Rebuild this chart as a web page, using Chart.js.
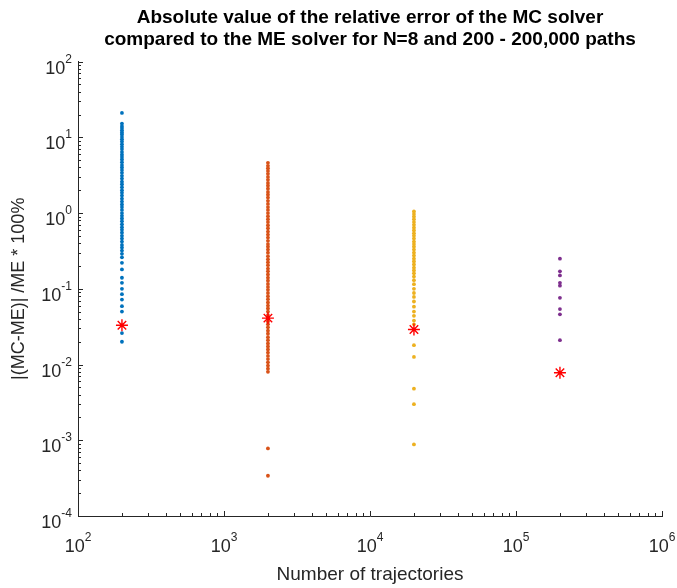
<!DOCTYPE html>
<html lang="en">
  <head>
    <meta charset="UTF-8">
    <script src="https://cdn.jsdelivr.net/npm/chart.js"></script>
    <style>
      body { margin: 0; background: #fff; }
      .chart-container { width: 677px; height: 588px; }
    </style>
  </head>
  <body>
<div class="chart-container">
    <canvas id="errChart"></canvas>
</div>

<script>
  // number of trajectories for each run
  const trajectories = [200, 2000, 20000, 200000];

  // |(MC-ME)|/ME * 100% for each path count
  const err200 = [21, 15.2, 14.1, 13.3, 12.4, 11.6, 10.9, 10.1, 9.4, 8.8, 8.1, 7.5, 7.0, 6.4, 5.9, 5.5, 5.1, 4.7,
    4.3, 4.0, 3.7, 3.4, 3.1, 2.85, 2.6, 2.4, 2.2, 2.0, 1.85, 1.7, 1.55, 1.42, 1.3, 1.2, 1.1, 1.0, 0.92, 0.85,
    0.78, 0.71, 0.65, 0.6, 0.55, 0.5, 0.46, 0.42, 0.38, 0.35, 0.32, 0.29, 0.26, 0.22, 0.18, 0.14, 0.12, 0.1,
    0.085, 0.072, 0.059, 0.05, 0.026, 0.02];
  const err2000 = [4.6, 4.2, 3.9, 3.6, 3.3, 3.0, 2.75, 2.5, 2.3, 2.1, 1.9, 1.75, 1.6, 1.45, 1.32, 1.2, 1.1, 1.0,
    0.91, 0.83, 0.76, 0.69, 0.63, 0.57, 0.52, 0.475, 0.43, 0.39, 0.36, 0.33, 0.3, 0.27, 0.245, 0.225, 0.205,
    0.185, 0.17, 0.155, 0.14, 0.128, 0.116, 0.106, 0.097, 0.088, 0.08, 0.073, 0.066, 0.06, 0.055, 0.05, 0.045,
    0.041, 0.037, 0.034, 0.031, 0.028, 0.0255, 0.023, 0.021, 0.019, 0.0173, 0.0158, 0.0144, 0.013, 0.0118,
    0.0107, 0.0097, 0.0088, 0.008, 0.00078, 0.00034];
  const err20000 = [1.05, 0.97, 0.9, 0.83, 0.76, 0.7, 0.64, 0.59, 0.54, 0.5, 0.46, 0.42, 0.39, 0.36, 0.33, 0.3,
    0.275, 0.25, 0.23, 0.21, 0.19, 0.175, 0.16, 0.145, 0.13, 0.115, 0.1, 0.088, 0.078, 0.068, 0.058, 0.05,
    0.044, 0.038, 0.034, 0.018, 0.0126, 0.0048, 0.003, 0.00088];
  const err200000 = [0.25, 0.17, 0.15, 0.12, 0.11, 0.076, 0.054, 0.046, 0.021];

  // red stars
  const meanErr = [0.033, 0.041, 0.029, 0.0078];

  const seriesColors = ['#0072BD', '#D95319', '#EDB120', '#7E2F8E'];
  const xTickExps = [2, 3, 4, 5, 6];
  const yTickExps = [-4, -3, -2, -1, 0, 1, 2];

  const textColor = '#262626';
  const fontFamily = "'Liberation Sans', Arial, sans-serif";

  const allErr = [err200, err2000, err20000, err200000];

  const datasets = [{
    label: 'mean',
    data: trajectories.map((n, i) => ({ x: n, y: meanErr[i] })),
    pointStyle: 'star',
    pointRadius: 6,
    borderColor: '#ff0000',
    backgroundColor: '#ff0000',
    borderWidth: 1.4,
    order: 0
  }];
  allErr.forEach(function(vals, i) {
    datasets.push({
      label: trajectories[i] + ' paths',
      data: vals.map(v => ({ x: trajectories[i], y: v })),
      pointRadius: 1.9,
      borderWidth: 0,
      backgroundColor: seriesColors[i],
      borderColor: seriesColors[i],
      order: 1
    });
  });

  // MATLAB style inner ticks and 10^n labels
  const logAxesPlugin = {
    id: 'logAxes',
    afterDraw(chart) {
      const ctx = chart.ctx;
      const xs = chart.scales.x;
      const ys = chart.scales.y;
      const area = chart.chartArea;
      ctx.save();
      ctx.strokeStyle = textColor;
      ctx.lineWidth = 1;
      ctx.beginPath();
      // x ticks
      for (let e = xTickExps[0]; e <= xTickExps[xTickExps.length - 1]; e++) {
        for (let m = 1; m < 10; m++) {
          if (e === xTickExps[xTickExps.length - 1] && m > 1) break;
          const px = Math.round(xs.getPixelForValue(m * Math.pow(10, e))) + 0.5;
          const len = m === 1 ? 5 : 3;
          ctx.moveTo(px, area.bottom);
          ctx.lineTo(px, area.bottom - len);
        }
      }
      // y ticks
      for (let e = yTickExps[0]; e <= yTickExps[yTickExps.length - 1]; e++) {
        for (let m = 1; m < 10; m++) {
          if (e === yTickExps[yTickExps.length - 1] && m > 1) break;
          const py = Math.round(ys.getPixelForValue(m * Math.pow(10, e))) + 0.5;
          const len = m === 1 ? 5 : 3;
          ctx.moveTo(area.left, py);
          ctx.lineTo(area.left + len, py);
        }
      }
      ctx.stroke();

      ctx.fillStyle = textColor;
      ctx.textBaseline = 'alphabetic';
      ctx.textAlign = 'left';
      const baseFont = '18px ' + fontFamily;
      const supFont = '12px ' + fontFamily;
      xTickExps.forEach(function(e) {
        const px = xs.getPixelForValue(Math.pow(10, e));
        ctx.font = baseFont;
        const w1 = ctx.measureText('10').width;
        ctx.font = supFont;
        const w2 = ctx.measureText(String(e)).width;
        const x0 = px - (w1 + w2) / 2;
        ctx.font = baseFont;
        ctx.fillText('10', x0, area.bottom + 36);
        ctx.font = supFont;
        ctx.fillText(String(e), x0 + w1, area.bottom + 25);
      });
      yTickExps.forEach(function(e) {
        const py = ys.getPixelForValue(Math.pow(10, e));
        ctx.font = supFont;
        const txt = e < 0 ? '-' + (-e) : String(e);
        const w2 = ctx.measureText(txt).width;
        ctx.font = baseFont;
        const w1 = ctx.measureText('10').width;
        const x0 = area.left - 6 - w1 - w2;
        ctx.fillText('10', x0, py + 12);
        ctx.font = supFont;
        ctx.fillText(txt, x0 + w1, py + 1);
      });
      ctx.restore();
    }
  };

  const config = {
    type: 'scatter',
    data: { datasets: datasets },
    options: {
      responsive: true,
      maintainAspectRatio: false,
      animation: false,
      layout: { padding: { left: 0, top: 0, right: 15, bottom: 0 } },
      scales: {
        x: {
          type: 'logarithmic',
          min: 100,
          max: 1000000,
          grid: { display: false },
          border: { display: true, color: textColor, width: 1 },
          ticks: { display: false },
          title: {
            display: true,
            text: 'Number of trajectories',
            color: textColor,
            font: { family: fontFamily, size: 19 },
            padding: { top: 0, bottom: 2 }
          },
          afterFit(scale) { scale.height = 72; }
        },
        y: {
          type: 'logarithmic',
          min: 0.0001,
          max: 100,
          grid: { display: false },
          border: { display: true, color: textColor, width: 1 },
          ticks: { display: false },
          title: {
            display: true,
            text: '|(MC-ME)| /ME * 100%',
            color: textColor,
            font: { family: fontFamily, size: 18 },
            padding: { top: 8, bottom: 0 }
          },
          afterFit(scale) { scale.width = 78; }
        }
      },
      plugins: {
        legend: { display: false },
        tooltip: { enabled: false },
        title: {
          display: true,
          fullSize: false,
          text: ['Absolute value of the relative error of the MC solver',
                 'compared to the ME solver for N=8 and 200 - 200,000 paths'],
          color: '#000000',
          font: { family: fontFamily, size: 19, weight: 'bold', lineHeight: 1.2 },
          padding: { top: 6, bottom: 10 }
        }
      }
    },
    plugins: [logAxesPlugin]
  };

  const errChart = new Chart(document.getElementById('errChart'), config);
</script>
</body>
</html>
